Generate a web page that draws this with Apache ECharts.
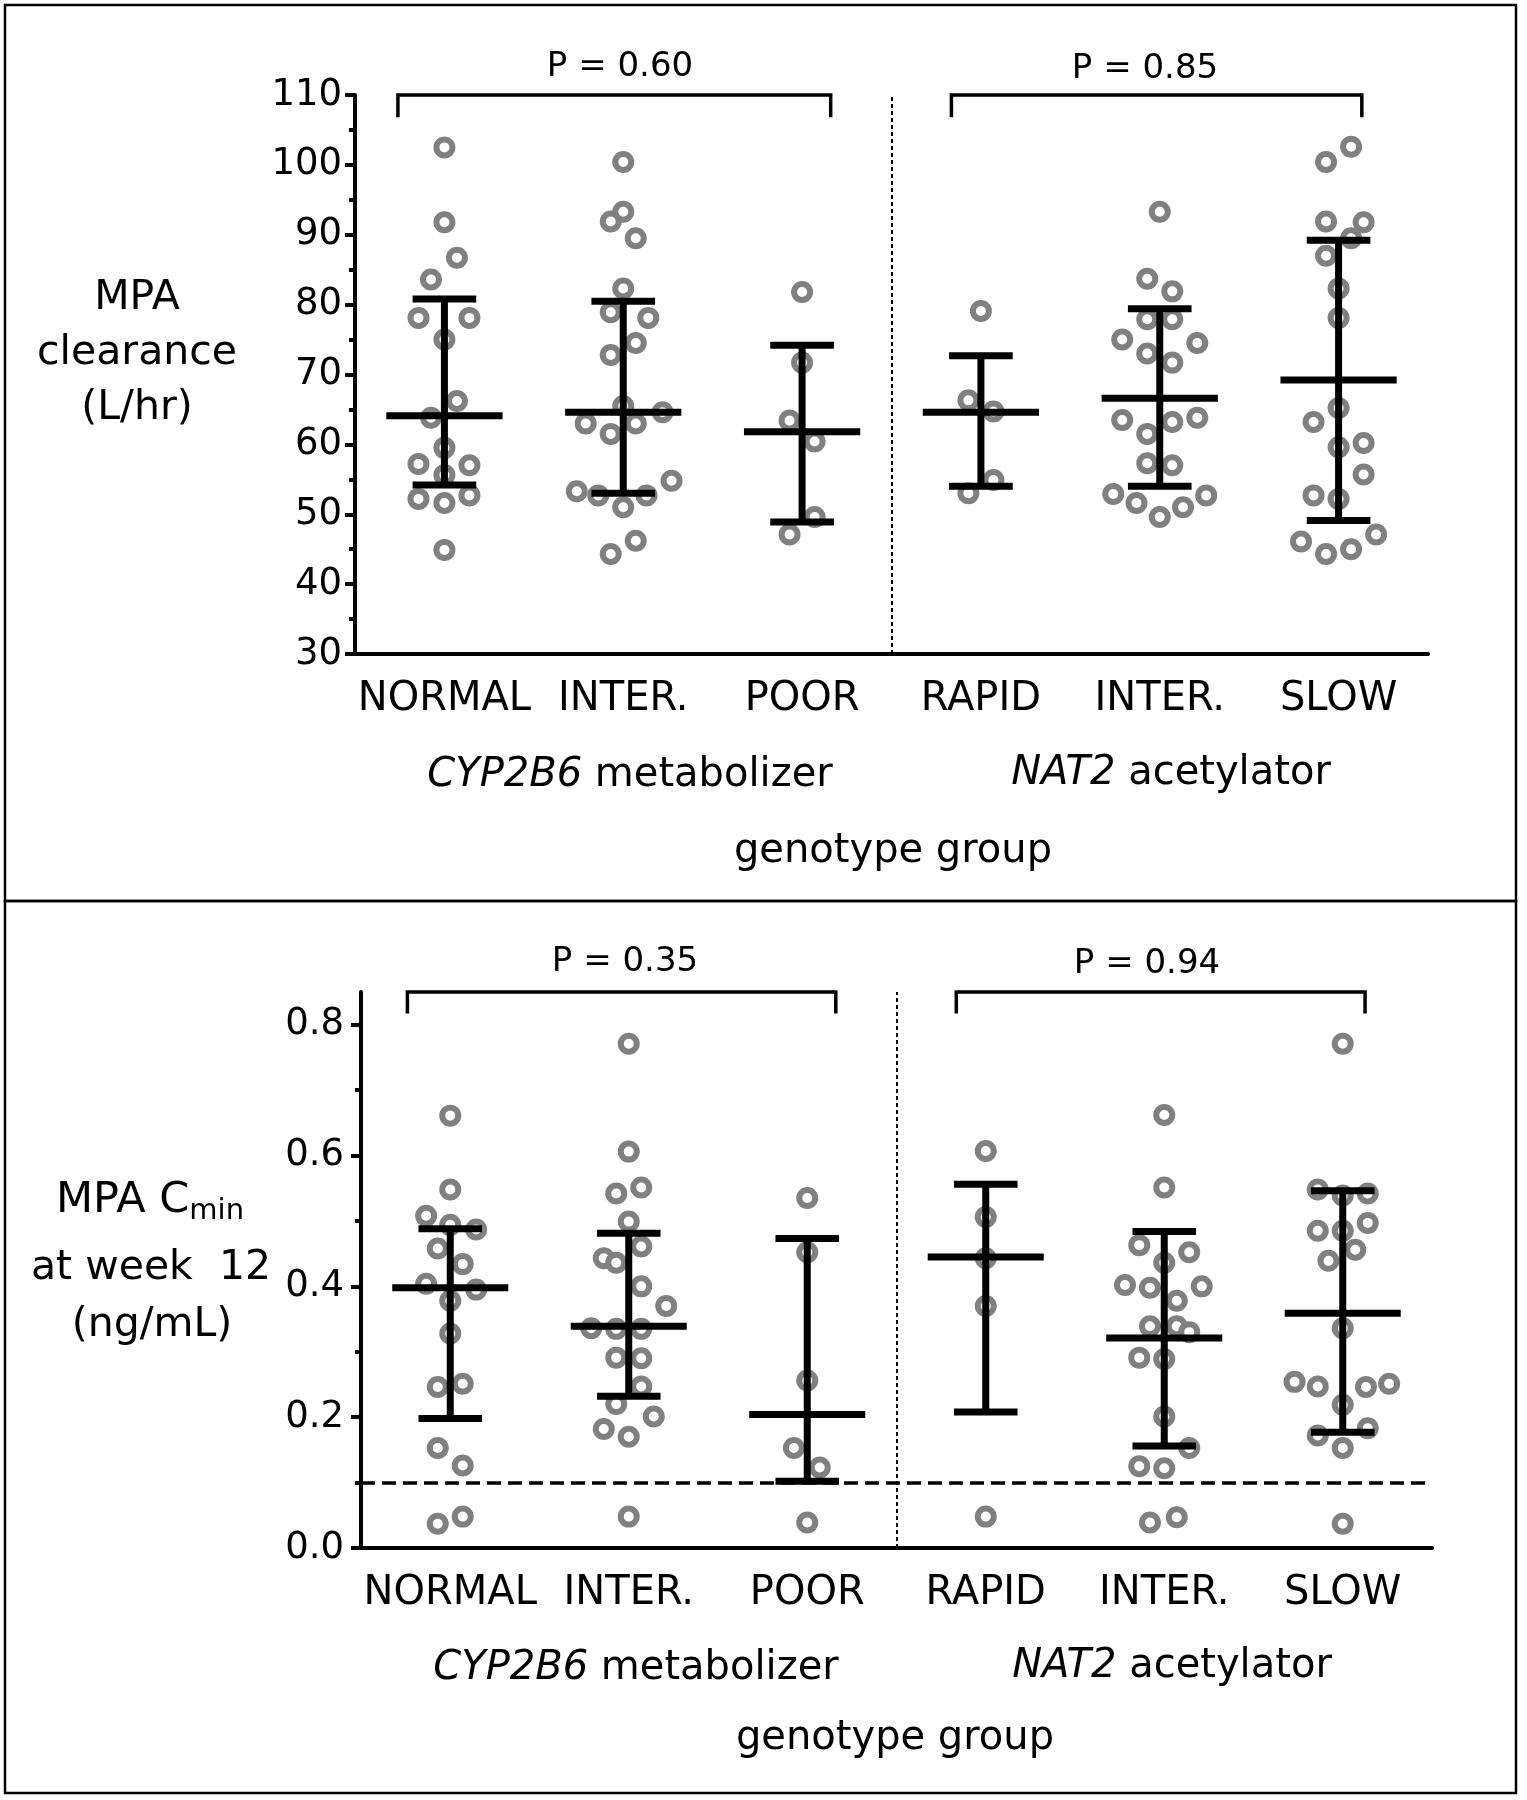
<!DOCTYPE html>
<html><head><meta charset="utf-8">
<script src="https://cdn.jsdelivr.net/npm/echarts@6/dist/echarts.min.js"></script>
<style>html,body{margin:0;padding:0;background:#fff}#c{width:1527px;height:1800px}</style>
</head><body><div id="c"></div>
<script>
// ---------------- DATA ----------------
const categories = ['NORMAL', 'INTER.', 'POOR', 'RAPID', 'INTER.', 'SLOW'];

// Panel A: MPA clearance (L/hr)
const clNormal   = [102.5, 91.8, 86.7, 83.6, 78.1, 78.1, 75.0, 66.2, 63.8, 59.5, 57.2, 57.0, 55.6, 52.2, 51.6, 52.7, 44.9];
const clNormalJ  = [0, 0, 0.07, -0.075, -0.145, 0.14, 0, 0.07, -0.075, 0, -0.145, 0.14, 0, -0.145, 0, 0.14, 0];
const clInterC   = [100.4, 93.3, 91.9, 89.5, 82.3, 78.9, 78.1, 74.5, 72.8, 65.5, 64.6, 63.0, 63.0, 61.5, 54.8, 53.3, 52.7, 52.7, 51.0, 46.2, 44.3];
const clInterCJ  = [0, 0, -0.07, 0.07, 0, -0.07, 0.14, 0.07, -0.07, 0, 0.22, -0.21, 0.07, -0.07, 0.27, -0.26, -0.14, 0.13, 0, 0.07, -0.07];
const clPoor     = [81.8, 71.7, 63.4, 60.4, 49.6, 47.1];
const clPoorJ    = [0, 0, -0.07, 0.07, 0.07, -0.07];
const clRapid    = [79.1, 66.3, 64.7, 54.9, 53.0];
const clRapidJ   = [0, -0.07, 0.07, 0.07, -0.07];
const clInterN   = [93.3, 83.7, 81.9, 77.9, 77.9, 75.0, 74.5, 73.0, 71.7, 63.5, 63.8, 63.2, 61.5, 57.3, 57.0, 52.9, 52.7, 51.6, 51.0, 49.6];
const clInterNJ  = [0, -0.07, 0.07, -0.07, 0.07, -0.21, 0.21, -0.07, 0.07, -0.21, 0.21, 0.07, -0.07, -0.07, 0.07, -0.26, 0.26, -0.13, 0.13, 0];
const clSlow     = [102.6, 100.4, 91.9, 91.8, 89.5, 87.0, 82.3, 78.1, 65.2, 63.2, 60.2, 59.6, 55.7, 52.7, 52.2, 46.1, 44.3, 45.0, 47.1];
const clSlowJ    = [0.07, -0.07, -0.07, 0.14, 0.07, -0.07, 0, 0, 0, -0.14, 0.14, 0, 0.14, -0.14, 0, -0.21, -0.07, 0.07, 0.21];
const clMedian   = [64.1, 64.6, 61.8, 64.6, 66.6, 69.2];
const clLower    = [54.2, 53.0, 48.9, 54.0, 54.0, 49.1];
const clUpper    = [80.8, 80.5, 74.2, 72.7, 79.4, 89.2];
const clPvalues  = ['P = 0.60', 'P = 0.85'];

// Panel B: MPA Cmin at week 12 (ng/mL)
const cmNormal   = [0.661, 0.548, 0.508, 0.494, 0.487, 0.458, 0.434, 0.404, 0.395, 0.378, 0.328, 0.246, 0.251, 0.153, 0.126, 0.037, 0.048];
const cmNormalJ  = [0, 0, -0.135, 0, 0.145, -0.07, 0.07, -0.135, 0.145, 0, 0, -0.07, 0.07, -0.07, 0.07, -0.07, 0.07];
const cmInterC   = [0.771, 0.606, 0.542, 0.551, 0.499, 0.461, 0.443, 0.436, 0.400, 0.370, 0.336, 0.335, 0.335, 0.291, 0.290, 0.247, 0.220, 0.201, 0.182, 0.170, 0.048];
const cmInterCJ  = [0, 0, -0.07, 0.07, 0, 0.07, -0.14, -0.07, 0.07, 0.21, -0.21, -0.07, 0.07, -0.07, 0.07, 0.07, -0.07, 0.14, -0.14, 0, 0];
const cmPoor     = [0.535, 0.452, 0.256, 0.153, 0.123, 0.039];
const cmPoorJ    = [0, 0, 0, -0.075, 0.07, 0];
const cmRapid    = [0.607, 0.506, 0.443, 0.370, 0.048];
const cmRapidJ   = [0, 0, 0, 0, 0];
const cmInterN   = [0.662, 0.551, 0.463, 0.452, 0.436, 0.402, 0.398, 0.400, 0.378, 0.339, 0.339, 0.330, 0.291, 0.289, 0.201, 0.153, 0.125, 0.122, 0.039, 0.047];
const cmInterNJ  = [0, 0, -0.14, 0.14, 0, -0.22, -0.08, 0.21, 0.07, -0.08, 0.07, 0.14, -0.14, 0, 0, 0.14, -0.14, 0, -0.08, 0.07];
const cmSlow     = [0.771, 0.548, 0.542, 0.539, 0.485, 0.485, 0.497, 0.456, 0.439, 0.336, 0.254, 0.247, 0.246, 0.251, 0.219, 0.183, 0.172, 0.153, 0.037];
const cmSlowJ    = [0, -0.14, 0.14, 0, -0.14, 0, 0.14, 0.07, -0.08, 0, -0.27, -0.14, 0.13, 0.26, 0, 0.14, -0.14, 0, 0];
const cmMedian   = [0.398, 0.339, 0.204, 0.445, 0.321, 0.359];
const cmLower    = [0.198, 0.232, 0.102, 0.208, 0.156, 0.177];
const cmUpper    = [0.488, 0.481, 0.473, 0.556, 0.484, 0.546];
const cmThreshold = 0.097;
const cmPvalues  = ['P = 0.35', 'P = 0.94'];

// axis ranges
const clRange = [30, 110], clStep = 10;
const cmRange = [0, 0.85], cmTickMax = 0.8, cmStep = 0.2;

// bracket spans in category units, and levels
const clBrackets = [[-0.26, 2.16], [2.835, 5.13]];
const clBracketY = [106.8, 110];
const cmBrackets = [[-0.24, 2.16], [2.835, 5.125]];
const cmBracketY = [0.817, 0.85];

// ---------------- STYLE / LAYOUT ----------------
const FONT = '"DejaVu Sans", "Liberation Sans", sans-serif';
const MED = 0.325, CAP = 0.178;
const gTop = { left: 355, top: 95, width: 1073, height: 559 };
const gBot = { left: 361, top: 992, width: 1071, height: 556 };
const botTickH = gBot.height * cmTickMax / cmRange[1];
const gBotTicks = { left: 361, top: gBot.top + gBot.height - botTickH, width: 1071, height: botTickH };

function points(groups, jits) {
  const out = [];
  groups.forEach((vals, i) => vals.forEach((v, j) => out.push([i + jits[i][j], v])));
  return out;
}
function bars(med, lo, hi) { return med.map((m, i) => [i, lo[i], m, hi[i]]); }
function bracketData(span, lv) {
  return [[span[0], lv[0]], [span[0], lv[1]], [span[1], lv[1]], [span[1], lv[0]]];
}

function errorBarRender(params, api) {
  const x = api.value(0), lo = api.value(1), mid = api.value(2), hi = api.value(3);
  const st = { stroke: '#000', lineWidth: 7, fill: null, lineCap: 'butt' };
  const seg = (a, b) => ({ type: 'line', shape: { x1: a[0], y1: a[1], x2: b[0], y2: b[1] }, style: st });
  return { type: 'group', children: [
    seg(api.coord([x, lo]), api.coord([x, hi])),
    seg(api.coord([x - CAP, lo]), api.coord([x + CAP, lo])),
    seg(api.coord([x - CAP, hi]), api.coord([x + CAP, hi])),
    seg(api.coord([x - MED, mid]), api.coord([x + MED, mid]))
  ]};
}

const scatterStyle = {
  type: 'scatter', symbol: 'circle', symbolSize: 16, z: 2, silent: true,
  itemStyle: { color: '#ffffff', borderColor: '#808080', borderWidth: 6, opacity: 1 }
};
const bracketStyle = { type: 'line', symbol: 'none', clip: false, silent: true, z: 4,
  lineStyle: { color: '#000', width: 3.5, join: 'miter', cap: 'butt' } };

function catAxis(gridIndex) {
  return {
    type: 'category', gridIndex, data: categories, boundaryGap: true,
    axisLine: { onZero: false, lineStyle: { color: '#000', width: 4 } },
    axisTick: { alignWithLabel: true, length: 11, lineStyle: { color: '#000', width: 4 } },
    axisLabel: { interval: 0, fontSize: 40, fontFamily: FONT, color: '#000', margin: 26 },
    splitLine: { show: false }
  };
}
function hiddenX(gridIndex) {
  return { type: 'value', gridIndex, min: -0.5, max: 5.5, show: false, splitLine: { show: false } };
}

const tickLbl = { fontSize: 37, fontFamily: FONT, color: '#000' };

const DY = 3.5; // text vertical nudge
function txt(x, y, text, size, extra) {
  return { type: 'text', x, y: y + DY, silent: true, z: 10,
    style: Object.assign({ text, fontSize: size, fontFamily: FONT, fill: '#000',
      align: 'center', verticalAlign: 'middle', textAlign: 'center', textVerticalAlign: 'middle' }, extra || {}) };
}
const italicRich = { i: { fontStyle: 'italic', fontSize: 40, fontFamily: FONT, fill: '#000' } };

const option = {
  animation: false,
  backgroundColor: '#ffffff',
  grid: [gTop, gBot, gBotTicks],
  xAxis: [catAxis(0), hiddenX(0), catAxis(1), hiddenX(1), hiddenX(2)],
  yAxis: [
    { type: 'value', gridIndex: 0, min: clRange[0], max: clRange[1], interval: clStep,
      axisLine: { show: true, onZero: false, lineStyle: { color: '#000', width: 4 } },
      axisTick: { show: true, length: 10, lineStyle: { color: '#000', width: 4 } },
      minorTick: { show: true, splitNumber: 2, length: 6, lineStyle: { color: '#000', width: 4 } },
      axisLabel: Object.assign({}, tickLbl, { margin: 13, padding: [27, 0, 0, 0] }), splitLine: { show: false } },
    { type: 'value', gridIndex: 1, min: cmRange[0], max: cmRange[1],
      axisLine: { show: true, onZero: false, lineStyle: { color: '#000', width: 4 } },
      axisTick: { show: false }, axisLabel: { show: false }, splitLine: { show: false } },
    { type: 'value', gridIndex: 2, min: cmRange[0], max: cmTickMax, interval: cmStep,
      axisLine: { show: false, onZero: false },
      axisTick: { show: true, length: 10, lineStyle: { color: '#000', width: 4 } },
      minorTick: { show: true, splitNumber: 2, length: 6, lineStyle: { color: '#000', width: 4 } },
      axisLabel: Object.assign({}, tickLbl, { margin: 17, padding: [23, 0, 0, 0], formatter: v => v.toFixed(1) }),
      splitLine: { show: false } }
  ],
  series: [
    Object.assign({}, scatterStyle, { xAxisIndex: 1, yAxisIndex: 0,
      data: points([clNormal, clInterC, clPoor, clRapid, clInterN, clSlow],
                   [clNormalJ, clInterCJ, clPoorJ, clRapidJ, clInterNJ, clSlowJ]),
      markLine: {
        silent: true, symbol: ['none', 'none'], label: { show: false },
        lineStyle: { color: '#000', width: 2, type: [4, 3] },
        data: [{ xAxis: 2.5 }]
      } }),
    { type: 'custom', xAxisIndex: 1, yAxisIndex: 0, z: 3, silent: true, renderItem: errorBarRender,
      encode: { x: 0, y: [1, 2, 3] }, data: bars(clMedian, clLower, clUpper) },
    Object.assign({}, bracketStyle, { xAxisIndex: 1, yAxisIndex: 0, data: bracketData(clBrackets[0], clBracketY) }),
    Object.assign({}, bracketStyle, { xAxisIndex: 1, yAxisIndex: 0, data: bracketData(clBrackets[1], clBracketY) }),

    Object.assign({}, scatterStyle, { xAxisIndex: 3, yAxisIndex: 1,
      data: points([cmNormal, cmInterC, cmPoor, cmRapid, cmInterN, cmSlow],
                   [cmNormalJ, cmInterCJ, cmPoorJ, cmRapidJ, cmInterNJ, cmSlowJ]),
      markLine: {
        silent: true, symbol: ['none', 'none'], label: { show: false },
        data: [
          { xAxis: 2.5, lineStyle: { color: '#000', width: 2, type: [4, 3] } },
          { yAxis: cmThreshold, lineStyle: { color: '#000', width: 3.5, type: [14, 7] } }
        ]
      } }),
    { type: 'custom', xAxisIndex: 3, yAxisIndex: 1, z: 3, silent: true, renderItem: errorBarRender,
      encode: { x: 0, y: [1, 2, 3] }, data: bars(cmMedian, cmLower, cmUpper) },
    Object.assign({}, bracketStyle, { xAxisIndex: 3, yAxisIndex: 1, data: bracketData(cmBrackets[0], cmBracketY) }),
    Object.assign({}, bracketStyle, { xAxisIndex: 3, yAxisIndex: 1, data: bracketData(cmBrackets[1], cmBracketY) })
  ],
  graphic: [
    { type: 'rect', silent: true, shape: { x: 5, y: 5, width: 1511, height: 896 },
      style: { fill: 'none', stroke: '#000', lineWidth: 2.5 } },
    { type: 'rect', silent: true, shape: { x: 5, y: 901, width: 1511, height: 892 },
      style: { fill: 'none', stroke: '#000', lineWidth: 2.5 } },
    // P values
    txt(620, 64, clPvalues[0], 34),
    txt(1145, 66, clPvalues[1], 34),
    txt(625, 959, cmPvalues[0], 34),
    txt(1147, 961, cmPvalues[1], 34),
    // y titles
    txt(137, 350, 'MPA\nclearance\n(L/hr)', 41, { lineHeight: 55 }),
    txt(150, 1197, '{a|MPA C}{s|min}', 43, { rich: {
      a: { fontSize: 43, fontFamily: FONT, fill: '#000', lineHeight: 50 },
      s: { fontSize: 29, fontFamily: FONT, fill: '#000', lineHeight: 10, verticalAlign: 'bottom' } } }),
    txt(151, 1265, 'at week  12', 41),
    txt(152, 1322, '(ng/mL)', 41),
    // group labels
    txt(630, 772, '{i|CYP2B6} metabolizer', 40, { rich: italicRich }),
    txt(1171, 770, '{i|NAT2} acetylator', 40, { rich: italicRich }),
    txt(893, 848, 'genotype group', 40),
    txt(636, 1665, '{i|CYP2B6} metabolizer', 40, { rich: italicRich }),
    txt(1172, 1663, '{i|NAT2} acetylator', 40, { rich: italicRich }),
    txt(895, 1735, 'genotype group', 40)
  ]
};

const chart = echarts.init(document.getElementById('c'), null, { renderer: 'canvas', width: 1527, height: 1800 });
chart.setOption(option);
</script></body></html>
